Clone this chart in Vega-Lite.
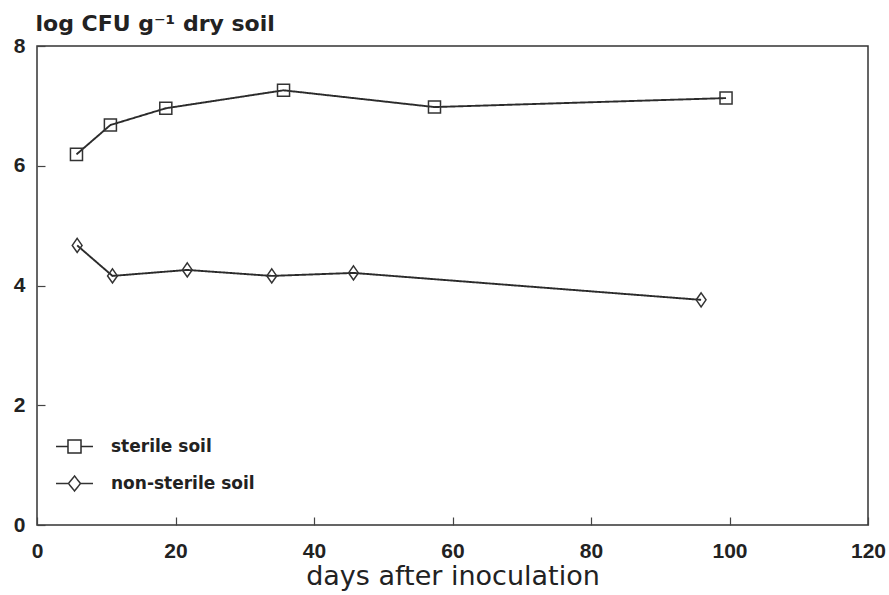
{
  "$schema": "https://vega.github.io/schema/vega-lite/v6.json",
  "width": 831,
  "height": 479,
  "autosize": "none",
  "padding": {"left": 37, "top": 46, "right": 21, "bottom": 70},
  "background": "white",
  "config": {
    "view": {"stroke": "#333", "strokeWidth": 1.5},
    "font": "DejaVu Sans"
  },
  "data": {
    "values": [
      {"series": "sterile soil", "day": 5.7, "cfu": 6.19},
      {"series": "sterile soil", "day": 10.6, "cfu": 6.68},
      {"series": "sterile soil", "day": 18.6, "cfu": 6.96},
      {"series": "sterile soil", "day": 35.6, "cfu": 7.26},
      {"series": "sterile soil", "day": 57.4, "cfu": 6.98},
      {"series": "sterile soil", "day": 99.5, "cfu": 7.13},
      {"series": "non-sterile soil", "day": 5.8, "cfu": 4.67},
      {"series": "non-sterile soil", "day": 10.9, "cfu": 4.16},
      {"series": "non-sterile soil", "day": 21.7, "cfu": 4.26},
      {"series": "non-sterile soil", "day": 33.9, "cfu": 4.16},
      {"series": "non-sterile soil", "day": 45.7, "cfu": 4.21},
      {"series": "non-sterile soil", "day": 95.9, "cfu": 3.76}
    ]
  },
  "encoding": {
    "x": {
      "field": "day", "type": "quantitative",
      "scale": {"domain": [0, 120], "nice": false, "zero": false},
      "axis": {
        "values": [0, 20, 40, 60, 80, 100, 120],
        "title": "days after inoculation",
        "titleFont": "DejaVu Sans", "titleFontSize": 27, "titleFontWeight": "normal",
        "titleColor": "#222", "titlePadding": 2,
        "labelFont": "Liberation Sans", "labelFontSize": 21, "labelFontWeight": "bold",
        "labelColor": "#222", "labelPadding": 23, "labelFlush": false,
        "tickSize": -8, "tickColor": "#444", "tickWidth": 1.2,
        "domain": false, "grid": false
      }
    },
    "y": {
      "field": "cfu", "type": "quantitative",
      "scale": {"domain": [0, 8], "nice": false, "zero": false},
      "axis": {
        "values": [0, 2, 4, 6, 8],
        "title": "log CFU g⁻¹ dry soil",
        "titleAngle": 0, "titleAlign": "left", "titleBaseline": "middle",
        "titleX": -2, "titleY": -23,
        "titleFont": "DejaVu Sans", "titleFontSize": 22, "titleFontWeight": "bold",
        "titleColor": "#222",
        "labelFont": "Liberation Sans", "labelFontSize": 21, "labelFontWeight": "bold",
        "labelColor": "#222", "labelPadding": 20, "labelFlush": false,
        "tickSize": -8, "tickColor": "#444", "tickWidth": 1.2,
        "domain": false, "grid": false
      }
    }
  },
  "layer": [
    {
      "mark": {"type": "line", "strokeWidth": 1.9},
      "encoding": {
        "order": {"field": "day"},
        "color": {
          "field": "series", "type": "nominal",
          "scale": {"domain": ["sterile soil", "non-sterile soil"], "range": ["#2b2b2b", "#2b2b2b"]},
          "legend": {
            "title": null,
            "values": ["sterile soil"],
            "orient": "none",
            "legendX": 29,
            "legendY": 392,
            "symbolType": "M-2.64,0H-0.93M0.93,0H2.64M-0.93,-0.93H0.93V0.93H-0.93Z",
            "symbolSize": 196,
            "symbolStrokeWidth": 1.5,
            "symbolFillColor": "transparent",
            "labelOffset": 28,
            "labelFont": "DejaVu Sans",
            "labelFontSize": 17,
            "labelFontWeight": "bold",
            "labelColor": "#222",
            "encode": {"symbols": {"update": {"fill": {"value": "transparent"}, "stroke": {"value": "#333"}}}}
          }
        },
        "strokeDash": {
          "field": "series", "type": "nominal",
          "scale": {"domain": ["non-sterile soil", "sterile soil"], "range": [[1, 0], [1, 0]]},
          "legend": {
            "title": null,
            "values": ["non-sterile soil"],
            "orient": "none",
            "legendX": 29,
            "legendY": 429,
            "symbolType": "M-2.64,0H-0.86M0.86,0H2.64M0,-1.07L0.86,0L0,1.07L-0.86,0Z",
            "symbolSize": 196,
            "symbolStrokeWidth": 1.5,
            "symbolStrokeColor": "#333",
            "symbolFillColor": "transparent",
            "labelOffset": 28,
            "labelFont": "DejaVu Sans",
            "labelFontSize": 17,
            "labelFontWeight": "bold",
            "labelColor": "#222",
            "encode": {"symbols": {"update": {"fill": {"value": "transparent"}, "stroke": {"value": "#333"}}}}
          }
        }
      }
    },
    {
      "transform": [{"filter": "datum.series === 'sterile soil'"}],
      "mark": {"type": "point", "filled": false, "color": "#333", "strokeWidth": 1.5, "size": 196, "opacity": 1, "shape": "M-0.86,-0.86H0.86V0.86H-0.86Z"}
    },
    {
      "transform": [{"filter": "datum.series === 'non-sterile soil'"}],
      "mark": {"type": "point", "filled": false, "color": "#333", "strokeWidth": 1.5, "size": 196, "opacity": 1, "shape": "M0,-1L0.7,0L0,1L-0.7,0Z"}
    }
  ]
}
